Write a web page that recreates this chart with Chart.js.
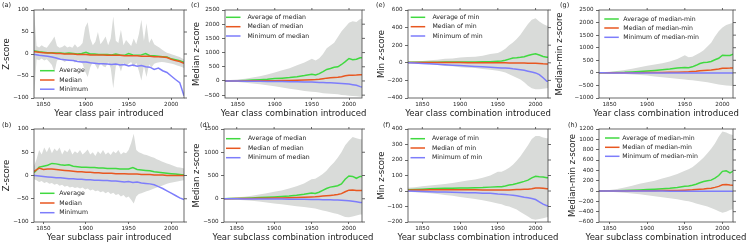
<!DOCTYPE html>
<html>
<head>
<meta charset="utf-8">
<script src="https://cdn.jsdelivr.net/npm/chart.js@4.4.0/dist/chart.umd.min.js"></script>
<style>
  body { margin: 0; background: #fff; }
  #fig { position: relative; width: 747px; height: 248px; overflow: hidden; background: #fff; }
  #fig canvas { position: absolute; }
</style>
</head>
<body>
<div id="fig"></div>
<script>
// ---- x values ----
const yearsLine = [1835, 1840, 1845, 1850, 1855, 1860, 1865, 1870, 1875, 1880, 1885, 1890, 1895, 1900, 1905, 1910, 1915, 1920, 1925, 1930, 1935, 1940, 1945, 1950, 1955, 1960, 1965, 1970, 1975, 1980, 1985, 1990, 1995, 2000, 2005, 2010, 2015];
const yearsBand = [1839, 1842, 1845, 1848, 1851, 1854, 1857, 1860, 1863, 1866, 1869, 1872, 1875, 1878, 1881, 1884, 1887, 1890, 1893, 1896, 1899, 1902, 1905, 1908, 1911, 1914, 1917, 1920, 1923, 1926, 1929, 1932, 1935, 1938, 1941, 1944, 1947, 1950, 1953, 1956, 1959, 1962, 1965, 1968, 1971, 1974, 1977, 1980, 1983, 1986, 1989, 1992, 1995, 1998, 2001, 2004, 2007, 2010, 2013, 2015];
const yearsComb = [1830, 1840, 1850, 1860, 1870, 1880, 1890, 1900, 1910, 1920, 1930, 1940, 1950, 1955, 1960, 1965, 1970, 1975, 1980, 1985, 1990, 1995, 2000, 2005, 2010, 2015, 2020];
const xTicks = [1850, 1900, 1950, 2000];

// ---- (a) class pairs ----
const avgA = [7, 7, 5, 4, 3, 3, 2, 2, 1, 2, 1, 0, 1, 4, 0, 0, -1, -1, -1, -2, 0, -2, -3, 1, -2, -3, -2, 1, -4, -4, -5, -6, -7, -11, -13, -15, -19];
const medA = [5, 5, 4, 3, 2, 2, 1, 1, 0, 0, 0, -1, -1, -1, -2, -2, -2, -2, -3, -3, -3, -3, -4, -4, -4, -4, -5, -5, -5, -6, -6, -7, -8, -12, -15, -17, -21];
const minA = [-1, -1, -3, -4, -5, -7, -9, -12, -13, -14, -15, -17, -18, -18, -20, -21, -22, -22, -23, -24, -23, -25, -24, -27, -25, -28, -26, -29, -30, -35, -32, -38, -42, -50, -58, -65, -95];
const upA = [100, 18, 15, 20, 16, 14, 22, 30, 40, 18, 14, 16, 20, 15, 17, 14, 22, 15, 18, 25, 60, 72, 35, 20, 28, 50, 22, 30, 40, 20, 35, 85, 30, 25, 55, 20, 32, 25, 18, 35, 22, 45, 78, 30, 70, 25, 35, 22, 18, 15, 10, 6, 3, 1, -1, -3, -5, -7, -10, -12];
const loA = [-100, -12, -14, -10, -15, -12, -18, -25, -42, -15, -12, -14, -18, -14, -16, -13, -20, -14, -16, -22, -40, -52, -30, -18, -25, -35, -20, -28, -30, -18, -32, -78, -28, -22, -40, -20, -28, -22, -18, -30, -20, -38, -60, -28, -52, -24, -30, -22, -20, -19, -18, -19, -20, -21, -22, -24, -26, -28, -30, -32];

// ---- (b) subclass pairs ----
const avgB = [3, 8, 18, 20, 22, 26, 25, 23, 22, 23, 20, 19, 18, 18, 17, 17, 16, 16, 15, 15, 15, 14, 14, 14, 17, 13, 12, 11, 10, 8, 7, 6, 5, 4, 3, 2, 1];
const medB = [3, 10, 16, 13, 14, 14, 13, 12, 11, 10, 9, 8, 8, 7, 7, 6, 6, 5, 5, 5, 4, 4, 4, 3, 3, 3, 2, 2, 2, 1, 1, 1, 0, 0, 0, 0, 0];
const minB = [1, 0, -1, -2, -3, -4, -5, -5, -6, -7, -7, -8, -8, -9, -9, -10, -10, -11, -11, -12, -12, -13, -14, -13, -15, -14, -16, -17, -18, -20, -24, -28, -33, -38, -43, -48, -52];
const upB = [20, 35, 55, 45, 60, 50, 62, 48, 58, 52, 60, 45, 55, 50, 58, 45, 52, 48, 55, 45, 50, 56, 45, 50, 42, 52, 46, 55, 45, 50, 44, 52, 48, 55, 45, 50, 48, 55, 70, 90, 55, 50, 48, 45, 44, 42, 40, 38, 35, 33, 30, 28, 26, 24, 22, 20, 18, 17, 16, 15];
const loB = [-8, -10, -14, -12, -16, -14, -18, -16, -20, -18, -22, -20, -24, -22, -26, -24, -27, -25, -28, -26, -30, -28, -32, -30, -34, -32, -36, -34, -38, -35, -40, -37, -42, -40, -45, -42, -48, -45, -52, -60, -45, -40, -38, -36, -34, -32, -30, -28, -26, -24, -22, -20, -18, -16, -15, -14, -13, -12, -11, -10];

// ---- (c) median, class combinations ----
const avgC = [0, 2, 5, 15, 30, 45, 60, 85, 100, 120, 150, 190, 240, 215, 260, 330, 405, 440, 480, 500, 580, 680, 790, 750, 765, 820, 820];
const medC = [0, 0, 2, 3, 5, 7, 10, 12, 15, 20, 25, 35, 45, 50, 60, 80, 100, 110, 120, 130, 150, 180, 200, 205, 210, 220, 220];
const minC = [0, -2, -5, -8, -10, -12, -15, -18, -22, -25, -30, -35, -40, -45, -50, -55, -60, -65, -70, -80, -90, -100, -110, -130, -150, -200, -220];
const upC = [20, 30, 50, 80, 120, 170, 230, 300, 380, 450, 550, 650, 780, 720, 800, 950, 1150, 1250, 1350, 1550, 1750, 1900, 2050, 2100, 2080, 2180, 2200];
const loC = [-10, -20, -40, -60, -90, -120, -150, -190, -230, -270, -310, -350, -380, -390, -410, -430, -440, -450, -460, -470, -490, -500, -520, -530, -540, -560, -560];

// ---- (d) median, subclass combinations ----
const avgD = [0, 3, 8, 12, 18, 25, 32, 40, 50, 60, 75, 95, 125, 115, 140, 180, 220, 250, 265, 280, 320, 420, 490, 480, 440, 480, 480];
const medD = [0, 1, 3, 5, 7, 9, 11, 14, 17, 20, 25, 30, 38, 42, 50, 58, 65, 72, 80, 90, 110, 150, 185, 190, 180, 180, 180];
const minD = [0, -1, -2, -3, -4, -5, -6, -7, -8, -9, -10, -12, -14, -15, -17, -19, -21, -23, -25, -28, -32, -38, -45, -55, -65, -80, -80];
const upD = [10, 20, 30, 45, 65, 90, 120, 150, 180, 220, 270, 330, 420, 430, 480, 530, 600, 700, 780, 880, 1000, 1150, 1250, 1330, 1300, 1280, 1280];
const loD = [-5, -10, -20, -30, -45, -60, -80, -100, -120, -140, -160, -180, -200, -210, -230, -250, -270, -290, -310, -330, -360, -390, -400, -380, -360, -340, -340];

// ---- (e) min, class combinations ----
const avgE = [5, 5, 6, 6, 7, 8, 8, 9, 10, 10, 11, 12, 18, 20, 28, 42, 55, 58, 62, 68, 82, 95, 102, 88, 72, 62, 62];
const medE = [3, 3, 3, 3, 2, 2, 2, 2, 1, 1, 1, 0, 0, 0, 0, -1, -1, -2, -2, -3, -4, -5, -5, -8, -12, -15, -15];
const minE = [0, -3, -8, -12, -17, -22, -27, -32, -37, -42, -46, -50, -55, -58, -60, -63, -68, -72, -78, -85, -95, -105, -115, -135, -170, -210, -210];
const upE = [10, 15, 20, 30, 35, 45, 50, 60, 65, 70, 80, 100, 110, 130, 160, 200, 230, 270, 320, 380, 440, 490, 505, 470, 440, 420, 420];
const loE = [-5, -10, -15, -20, -25, -35, -40, -50, -55, -60, -70, -80, -90, -100, -110, -130, -150, -170, -190, -220, -260, -290, -300, -300, -295, -290, -290];

// ---- (f) min, subclass combinations ----
const avgF = [8, 10, 12, 15, 16, 17, 18, 19, 20, 21, 22, 25, 27, 27, 32, 38, 42, 48, 55, 62, 70, 85, 95, 92, 90, 85, 85];
const medF = [5, 6, 7, 8, 8, 8, 8, 8, 8, 8, 7, 7, 6, 6, 6, 7, 8, 9, 10, 11, 12, 15, 20, 20, 18, 15, 15];
const minF = [0, -2, -4, -5, -6, -7, -8, -10, -11, -12, -14, -15, -20, -21, -23, -25, -28, -31, -35, -40, -44, -48, -55, -70, -85, -95, -95];
const upF = [20, 25, 30, 35, 40, 45, 52, 60, 68, 75, 85, 100, 125, 125, 135, 150, 170, 195, 225, 260, 295, 335, 355, 355, 345, 340, 340];
const loF = [-5, -8, -12, -15, -20, -25, -30, -38, -45, -52, -60, -70, -80, -85, -95, -100, -110, -120, -135, -150, -165, -180, -185, -180, -175, -170, -170];

// ---- (g) median-min, class combinations ----
const avgG = [0, 2, 5, 12, 20, 35, 55, 75, 95, 120, 150, 190, 215, 200, 240, 300, 370, 410, 420, 450, 520, 580, 700, 690, 690, 750, 750];
const medG = [0, 0, 1, 2, 3, 5, 7, 10, 12, 15, 20, 25, 35, 40, 50, 60, 80, 90, 100, 110, 130, 150, 180, 185, 190, 200, 200];
const minG = [0, 0, -1, -1, -1, -2, -2, -2, -3, -3, -3, -4, -4, -4, -5, -5, -5, -5, -6, -6, -6, -7, -7, -8, -8, -8, -8];
const upG = [10, 20, 40, 70, 110, 160, 220, 280, 330, 380, 450, 550, 700, 620, 640, 720, 800, 900, 1050, 1200, 1450, 1650, 1800, 1900, 1950, 2000, 2000];
const loG = [-5, -10, -20, -35, -50, -70, -90, -110, -140, -170, -200, -230, -260, -280, -290, -310, -330, -350, -370, -400, -430, -460, -480, -500, -510, -520, -520];

// ---- (h) median-min, subclass combinations ----
const avgH = [0, 2, 4, 6, 10, 15, 20, 28, 35, 45, 55, 70, 90, 95, 110, 130, 160, 185, 200, 210, 250, 300, 380, 390, 350, 390, 390];
const medH = [0, 0, 1, 1, 2, 3, 4, 5, 6, 8, 10, 12, 15, 18, 22, 28, 35, 40, 48, 55, 70, 90, 120, 125, 115, 110, 110];
const minH = [0, 0, -1, -1, -1, -1, -2, -2, -2, -2, -3, -3, -3, -3, -4, -4, -4, -4, -5, -5, -5, -5, -6, -6, -6, -6, -6];
const upH = [5, 10, 20, 40, 70, 100, 140, 170, 200, 240, 280, 330, 390, 420, 460, 520, 580, 650, 730, 820, 920, 1050, 1150, 1130, 1100, 1080, 1080];
const loH = [-5, -10, -15, -25, -35, -50, -65, -80, -100, -120, -140, -160, -190, -200, -220, -240, -260, -280, -300, -330, -360, -390, -420, -400, -370, -350, -350];

// ---- y tick labels ----
const ticksAB = [-100, -50, 0, 50, 100];
const ticksC = [-500, 0, 500, 1000, 1500, 2000, 2500];
const ticksD = [-500, 0, 500, 1000, 1500];
const ticksE = [-400, -200, 0, 200, 400, 600];
const ticksF = [-200, -100, 0, 100, 200, 300, 400];
const ticksG = [-1000, -500, 0, 500, 1000, 1500, 2000, 2500];
const ticksH = [-600, -400, -200, 0, 200, 400, 600, 800, 1000, 1200];

// ---- legend labels ----
const labelsPair = ['Average', 'Median', 'Minimum'];
const labelsMedian = ['Average of median', 'Median of median', 'Minimum of median'];
const labelsMin = ['Average of min', 'Median of min', 'Minimum of min'];
const labelsMedMin = ['Average of median-min', 'Median of median-min', 'Minimum of median-min'];

const GREEN = '#40d940', ORANGE = '#e85720', BLUE = '#7d7dfb', BAND = '#d9dbd9';
const AXIS = '#444444', TEXT = '#222222';
const FAMILY = "'DejaVu Sans', sans-serif";

function pts(xs, ys) {
    return xs.map((x, i) => ({ x: x, y: ys[i] }));
}

function fmt(v) {
    return v < 0 ? '\u2212' + Math.abs(v) : String(v);
}

// frame, mirrored ticks, x title, legend and panel letter
function decor(p) {
    return {
        id: 'decor' + p.letter,
        afterDraw(chart) {
            const ctx = chart.ctx, a = chart.chartArea;
            const xs = chart.scales.x, ys = chart.scales.y;
            const cx = p.box[0], cy = p.box[1];
            ctx.save();
            ctx.strokeStyle = AXIS;
            ctx.lineWidth = 0.8;
            ctx.strokeRect(a.left, a.top, a.right - a.left, a.bottom - a.top);
            ctx.beginPath();
            xs.ticks.forEach(t => {
                const px = xs.getPixelForValue(t.value);
                ctx.moveTo(px, a.top);
                ctx.lineTo(px, a.top - 2);
            });
            ys.ticks.forEach(t => {
                const py = ys.getPixelForValue(t.value);
                ctx.moveTo(a.right, py);
                ctx.lineTo(a.right + 3, py);
            });
            ctx.stroke();

            ctx.fillStyle = TEXT;
            ctx.textBaseline = 'middle';
            ctx.font = '8.5px ' + FAMILY;
            ctx.textAlign = 'center';
            ctx.fillText(p.xtitle, (a.left + a.right) / 2, a.bottom + 15.5);

            ctx.font = '6.5px ' + FAMILY;
            ctx.textAlign = 'left';
            ctx.fillText('(' + p.letter + ')', p.mark[0] - cx, p.mark[1] - cy);

            ctx.font = '6.2px ' + FAMILY;
            chart.data.datasets.slice(0, 3).forEach((ds, i) => {
                const y = p.leg[2][i] - cy;
                ctx.strokeStyle = ds.borderColor;
                ctx.lineWidth = 1.5;
                ctx.beginPath();
                ctx.moveTo(p.leg[0] - cx, y);
                ctx.lineTo(p.leg[0] + 14.5 - cx, y);
                ctx.stroke();
                ctx.fillText(ds.label, p.leg[1] - cx, y);
            });
            ctx.restore();
        }
    };
}

const panels = [
    { letter: 'a', box: [0, 0, 214, 121], area: [34, 10, 184, 98], xr: [1839, 2015], yr: [-100, 100], yt: ticksAB,
      lx: yearsLine, lines: [avgA, medA, minA], bx: yearsBand, band: [upA, loA], labels: labelsPair,
      ytitle: 'Z-score', ytx: 7, xtitle: 'Year class pair introduced', mark: [2, 5], leg: [40, 59.3, [70.7, 80, 89.2]] },
    { letter: 'b', box: [0, 119, 214, 129], area: [34, 129, 184, 222], xr: [1839, 2015], yr: [-100, 100], yt: ticksAB,
      lx: yearsLine, lines: [avgB, medB, minB], bx: yearsBand, band: [upB, loB], labels: labelsPair,
      ytitle: 'Z-score', ytx: 7, xtitle: 'Year subclass pair introduced', mark: [2, 125.5], leg: [40, 59.3, [193.3, 203, 212.7]] },
    { letter: 'c', box: [186, 0, 206, 121], area: [225, 10, 362, 98], xr: [1833, 2017.5], yr: [-600, 2500], yt: ticksC,
      lx: yearsComb, lines: [avgC, medC, minC], bx: yearsComb, band: [upC, loC], labels: labelsMedian,
      ytitle: 'Median z-score', ytx: 197, xtitle: 'Year class combination introduced', mark: [191, 5], leg: [226, 247.5, [17.3, 26.7, 36]] },
    { letter: 'd', box: [186, 119, 206, 129], area: [224, 129, 362, 222], xr: [1833, 2017.5], yr: [-500, 1500], yt: ticksD,
      lx: yearsComb, lines: [avgD, medD, minD], bx: yearsComb, band: [upD, loD], labels: labelsMedian,
      ytitle: 'Median z-score', ytx: 197, xtitle: 'Year subclass combination introduced', mark: [200, 125.5], leg: [226, 248, [138.7, 148.3, 157.7]] },
    { letter: 'e', box: [372, 0, 206, 121], area: [408, 10, 548, 98], xr: [1831, 2016.5], yr: [-400, 600], yt: ticksE,
      lx: yearsComb, lines: [avgE, medE, minE], bx: yearsComb, band: [upE, loE], labels: labelsMin,
      ytitle: 'Min z-score', ytx: 382, xtitle: 'Year class combination introduced', mark: [376, 5], leg: [410.7, 432.5, [17.3, 26.7, 36]] },
    { letter: 'f', box: [372, 119, 206, 129], area: [408, 129, 548, 222], xr: [1831, 2016.5], yr: [-200, 400], yt: ticksF,
      lx: yearsComb, lines: [avgF, medF, minF], bx: yearsComb, band: [upF, loF], labels: labelsMin,
      ytitle: 'Min z-score', ytx: 382, xtitle: 'Year subclass combination introduced', mark: [383, 125.5], leg: [410.5, 432, [138.7, 148, 157.7]] },
    { letter: 'g', box: [555, 0, 192, 121], area: [599, 10, 733, 98], xr: [1836, 2014], yr: [-1000, 2500], yt: ticksG,
      lx: yearsComb, lines: [avgG, medG, minG], bx: yearsComb, band: [upG, loG], labels: labelsMedMin,
      ytitle: 'Median-min z-score', ytx: 560, xtitle: 'Year class combination introduced', mark: [560, 5], leg: [604.3, 623.3, [19, 28, 37.3]] },
    { letter: 'h', box: [555, 119, 192, 129], area: [599, 129, 733, 222], xr: [1836, 2014], yr: [-600, 1200], yt: ticksH,
      lx: yearsComb, lines: [avgH, medH, minH], bx: yearsComb, band: [upH, loH], labels: labelsMedMin,
      ytitle: 'Median-min z-score', ytx: 573, xtitle: 'Year subclass combination introduced', mark: [568, 125.5], leg: [605, 622.3, [138, 147.3, 156.3]] }
];

Chart.defaults.font.family = FAMILY;
const fig = document.getElementById('fig');

panels.forEach(p => {
    const [cl, ct, cw, ch] = p.box;
    const [pl, pt, pr, pb] = p.area;
    const canvas = document.createElement('canvas');
    canvas.width = cw;
    canvas.height = ch;
    canvas.style.left = cl + 'px';
    canvas.style.top = ct + 'px';
    canvas.style.width = cw + 'px';
    canvas.style.height = ch + 'px';
    fig.appendChild(canvas);

    const colors = [GREEN, ORANGE, BLUE];
    const datasets = p.lines.map((vals, i) => ({
        label: p.labels[i],
        data: pts(p.lx, vals),
        borderColor: colors[i],
        backgroundColor: colors[i],
        borderWidth: 1.5,
        pointRadius: 0,
        tension: 0,
        fill: false,
        order: 3 - i
    }));
    datasets.push({
        label: 'upper',
        data: pts(p.bx, p.band[0]),
        borderWidth: 0,
        borderColor: 'rgba(0,0,0,0)',
        backgroundColor: BAND,
        pointRadius: 0,
        fill: '+1',
        order: 10
    });
    datasets.push({
        label: 'lower',
        data: pts(p.bx, p.band[1]),
        borderWidth: 0,
        borderColor: 'rgba(0,0,0,0)',
        pointRadius: 0,
        fill: false,
        order: 11
    });

    const tickFont = { family: FAMILY, size: 5.6 };
    new Chart(canvas, {
        type: 'line',
        data: { datasets: datasets },
        options: {
            responsive: false,
            animation: false,
            devicePixelRatio: 1,
            layout: { padding: { left: 0, top: pt - ct, right: cl + cw - pr, bottom: 0 } },
            plugins: { legend: { display: false }, tooltip: { enabled: false } },
            scales: {
                x: {
                    type: 'linear',
                    min: p.xr[0],
                    max: p.xr[1],
                    afterBuildTicks: s => { s.ticks = xTicks.map(v => ({ value: v })); },
                    afterFit: s => { s.height = ct + ch - pb; },
                    ticks: { font: tickFont, color: TEXT, padding: 1, autoSkip: false, maxRotation: 0, callback: v => String(v) },
                    grid: { drawOnChartArea: false, tickLength: 2, color: AXIS, lineWidth: 0.8 },
                    border: { display: false }
                },
                y: {
                    type: 'linear',
                    min: p.yr[0],
                    max: p.yr[1],
                    afterBuildTicks: s => { s.ticks = p.yt.map(v => ({ value: v })); },
                    afterFit: s => { s.width = pl - cl; },
                    ticks: { font: tickFont, color: TEXT, padding: 2.5, autoSkip: false, callback: v => fmt(v) },
                    grid: { drawOnChartArea: false, tickLength: 3, color: AXIS, lineWidth: 0.8 },
                    border: { display: false },
                    title: {
                        display: true,
                        text: p.ytitle,
                        color: TEXT,
                        font: { family: FAMILY, size: 8.5, lineHeight: 1 },
                        padding: { top: Math.max(0, p.ytx - 4.25 - cl), bottom: 0 }
                    }
                }
            }
        },
        plugins: [decor(p)]
    });
});
</script>
</body>
</html>
